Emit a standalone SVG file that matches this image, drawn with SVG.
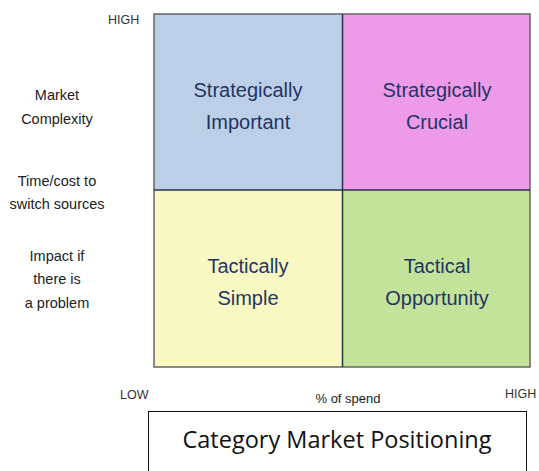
<svg xmlns="http://www.w3.org/2000/svg" width="539" height="471" viewBox="0 0 539 471">
  <style>
    .quad { stroke: none; }
    .qtext { font-family: "Liberation Sans", Arial, sans-serif; font-size: 20px; fill: #1f3566; text-anchor: middle; }
    .axis { font-family: "Liberation Sans", Arial, sans-serif; font-size: 14.5px; fill: #222; text-anchor: middle; }
    .tick { font-family: "Liberation Sans", Arial, sans-serif; font-size: 12.5px; fill: #333; }
    .title { font-family: "Open Sans", "Liberation Sans", sans-serif; font-size: 23.5px; fill: #111; text-anchor: middle; }
  </style>
  <rect width="539" height="471" fill="#ffffff"/>

  <!-- quadrants -->
  <g id="strategically-important">
    <rect class="quad" x="154" y="14" width="188" height="176" fill="#bccfe6"/>
    <text class="qtext" x="248" y="97">Strategically</text>
    <text class="qtext" x="248" y="129">Important</text>
  </g>
  <g id="strategically-crucial">
    <rect class="quad" x="342" y="14" width="188" height="176" fill="#ed9ae9"/>
    <text class="qtext" x="437" y="97">Strategically</text>
    <text class="qtext" x="437" y="129">Crucial</text>
  </g>
  <g id="tactically-simple">
    <rect class="quad" x="154" y="190" width="188" height="177" fill="#f8f8c2"/>
    <text class="qtext" x="248" y="273">Tactically</text>
    <text class="qtext" x="248" y="305">Simple</text>
  </g>
  <g id="tactical-opportunity">
    <rect class="quad" x="342" y="190" width="188" height="177" fill="#c3e39b"/>
    <text class="qtext" x="437" y="273">Tactical</text>
    <text class="qtext" x="437" y="305">Opportunity</text>
  </g>

  <!-- grid lines -->
  <g id="connectors">
    <rect x="154" y="14" width="376" height="353" fill="none" stroke="#666666" stroke-width="1.5"/>
    <line x1="342.5" y1="14" x2="342.5" y2="367" stroke="#24344f" stroke-width="1.5"/>
    <line x1="154" y1="190" x2="530" y2="190" stroke="#24344f" stroke-width="1.5"/>
  </g>

  <!-- vertical axis labels -->
  <g id="y-axis">
    <text class="tick" x="108" y="24">HIGH</text>
    <text class="axis" x="57" y="100">Market</text>
    <text class="axis" x="57" y="124">Complexity</text>
    <text class="axis" x="57" y="186">Time/cost to</text>
    <text class="axis" x="57" y="209">switch sources</text>
    <text class="axis" x="57" y="261">Impact if</text>
    <text class="axis" x="57" y="284">there is</text>
    <text class="axis" x="57" y="308">a problem</text>
  </g>

  <!-- horizontal axis labels -->
  <g id="x-axis">
    <text class="tick" x="120" y="399">LOW</text>
    <text class="axis" x="348" y="403" style="font-size:13px">% of spend</text>
    <text class="tick" x="505" y="398">HIGH</text>
  </g>

  <g id="caption">
    <rect x="148.5" y="411.5" width="378" height="70" fill="#ffffff" stroke="#111111" stroke-width="1"/>
    <text class="title" x="337" y="448">Category Market Positioning</text>
  </g>
</svg>
